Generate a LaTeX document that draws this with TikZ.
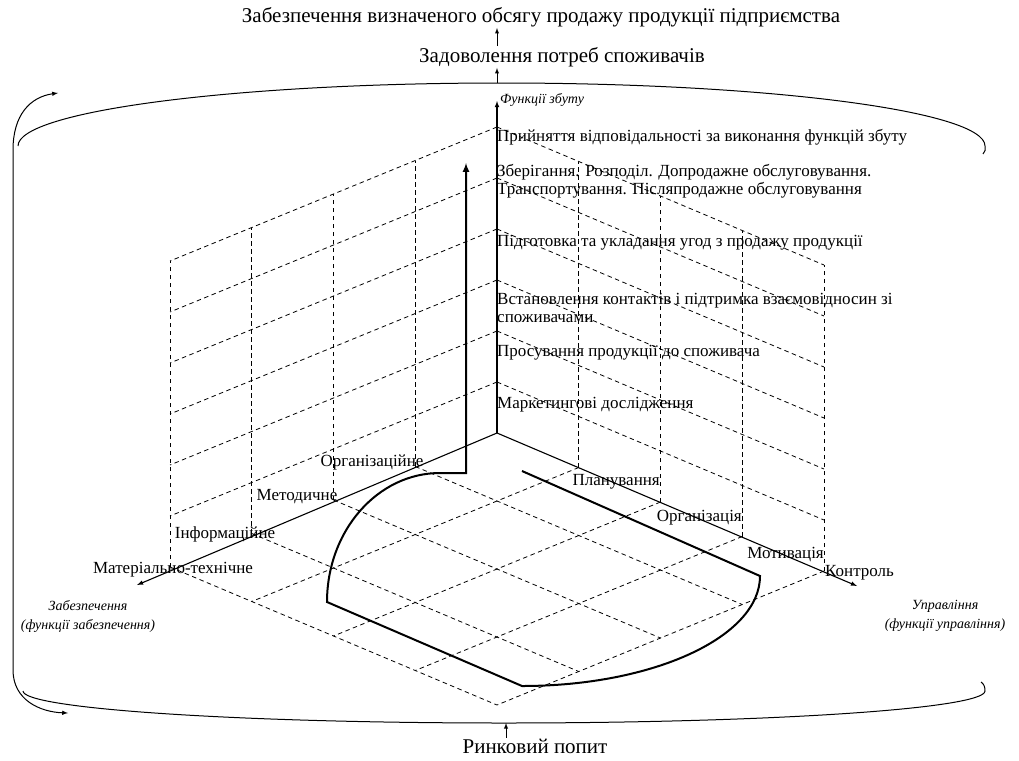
\documentclass[tikz,border=0pt]{standalone}
\usepackage{fontspec}
\setmainfont{Liberation Serif}

\begin{document}
\begin{tikzpicture}[x=1pt,y=-1pt,>=latex,
		every node/.style={inner sep=1pt},
		big/.style={font=\fontsize{21}{23}\selectfont},
		lbl/.style={font=\fontsize{17}{18.5}\selectfont},
		note/.style={font=\fontsize{14}{19}\selectfont\itshape,align=center},
		grid line/.style={line width=0.8pt,dash pattern=on 4.5pt off 3.5pt},
		axis/.style={line width=1.1pt,->},
		flow/.style={line width=2pt}]
		\useasboundingbox (0,0) rectangle (1019,760);
		% Origin of the three axes
		\coordinate (O) at (497,433);
		\coordinate (sales) at (497,101);
		\coordinate (supply) at (137,585);
		\coordinate (manage) at (857,586);
		
		% Dashed grid: 4 cells along each floor axis, 6 rows up
		\foreach \i in {1,...,4}{
			\draw[grid line] (497-81.75*\i,433+33.5*\i) -- ++(0,-306);% left wall
			\draw[grid line] (497+81.75*\i,433+34.5*\i) -- ++(0,-306);% right wall
			\draw[grid line] (497-81.75*\i,433+33.5*\i) -- ++(327,138);% floor
			\draw[grid line] (497+81.75*\i,433+34.5*\i) -- ++(-327,134);% floor
		}
		\foreach \j in {1,...,6}{
			\draw[grid line] (497,433-51*\j) -- ++(-327,134);
			\draw[grid line] (497,433-51*\j) -- ++(327,138);
		}
		
		% Axes
		\draw[axis] (O) -- (sales);
		\draw[axis] (O) -- (supply);
		\draw[axis] (O) -- (manage);
		
		% Thick outline of the sales system
		\draw[flow,<-] (466,163) -- (466,473) -- (440,473) arc (270:180:113 and 129)
			-- (522,686) arc (90:0:238 and 110) -- (522,471);
		
		% Cylinder round everything
		\draw[line width=1pt] (18,146) arc (180:360:483.5 and 63)
			.. controls (986,149) and (985,152) .. (983,154);
		\draw[line width=1pt] (23,691) arc (180:0:481 and 32)
			.. controls (985,687) and (984,684) .. (981,682);
		\draw[line width=1pt,<->] (58,93) .. controls (30,97) and (13,115) .. (13,150)
			-- (13,670) .. controls (13,700) and (40,712) .. (68,713);
		\coordinate (etop) at (497,83);
		\coordinate (ebot) at (506,723);
		
		% Goals and demand
		\node[big] (goal) at (541,17) {Забезпечення визначеного обсягу продажу продукції підприємства};
		\node[big] (need) at (562,57) {Задоволення потреб споживачів};
		\node[big] (demand) at (535,746) {Ринковий попит};
		\draw[->,line width=0.9pt] (etop) -- (etop |- need.south);
		\draw[->,line width=0.9pt] (need.north -| etop) -- (goal.south -| etop);
		\draw[->,line width=0.9pt] (demand.north -| ebot) -- (ebot);
		
		% Sales functions, one per row of the wall
		\node[note,anchor=west] (salesname) at (499,100) {Функції збуту};
		\foreach \y/\txt [count=\k] in {
			405/{Маркетингові дослідження},
			353/{Просування продукції до споживача},
			308/{Встановлення контактів і підтримка взаємовідносин зі\\споживачами},
			243/{Підготовка та укладання угод з продажу продукції},
			181/{Зберігання. Розподіл. Допродажне обслуговування.\\Транспортування. Післяпродажне обслуговування},
			137/{Прийняття відповідальності за виконання функцій збуту}}
			\node[lbl,anchor=west,align=left] (f\k) at (496,\y) {\txt};
		
		% Supply functions
		\node[lbl] (s1) at (372,462) {Організаційне};
		\node[lbl] (s2) at (297,497) {Методичне};
		\node[lbl] (s3) at (225,534) {Інформаційне};
		\node[lbl] (s4) at (173,570) {Матеріально-технічне};
		\node[note] (supplyname) at (88,616) {Забезпечення\\(функції забезпечення)};
		
		% Management functions
		\node[lbl,anchor=east] (m1) at (661,482) {Планування};
		\node[lbl,anchor=east] (m2) at (743,518) {Організація};
		\node[lbl,anchor=east] (m3) at (825,555) {Мотивація};
		\node[lbl,anchor=west] (m4) at (824,573) {Контроль};
		\node[note] (managename) at (945,616) {Управління\\(функції управління)};
	\end{tikzpicture}
\end{document}
